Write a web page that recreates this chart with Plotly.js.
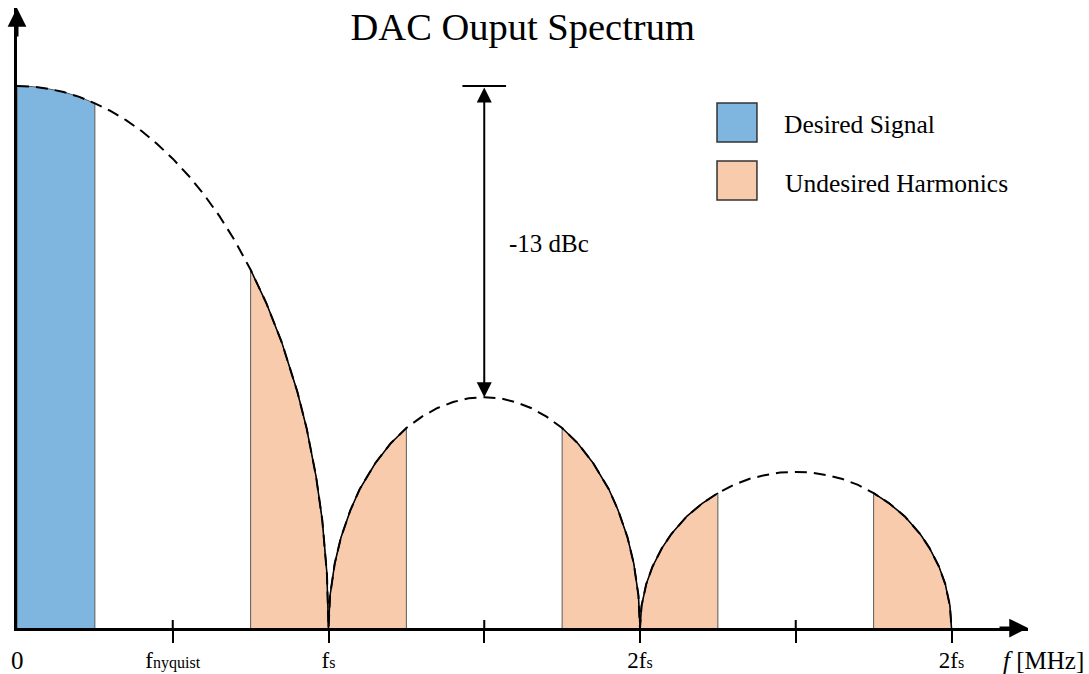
<!DOCTYPE html>
<html>
<head>
<meta charset="utf-8">
<script src="https://cdn.plot.ly/plotly-3.0.1.min.js"></script>
<style>html,body{margin:0;padding:0;background:#fff;}#chart{width:1089px;height:674px;}</style>
</head>
<body>
<div id="chart"></div>
<script>
// Frequency in units of fs, amplitude relative to the main-lobe peak
const freq = [0,0.05,0.1,0.15,0.2,0.25,0.3,0.35,0.4,0.45,0.5,0.55,0.6,0.65,0.7,0.75,0.8,0.85,0.9,0.93,0.96,0.98,0.995,1.0,
  1.005,1.02,1.04,1.07,1.1,1.15,1.2,1.25,1.3,1.35,1.4,1.45,1.5,1.55,1.6,1.65,1.7,1.75,1.8,1.85,1.9,1.93,1.96,1.98,1.995,2.0,
  2.005,2.02,2.04,2.07,2.1,2.15,2.2,2.25,2.3,2.35,2.4,2.45,2.5,2.55,2.6,2.65,2.7,2.75,2.8,2.85,2.9,2.93,2.96,2.98,2.995,3.0];
const amplitude = [1.000,0.999,0.995,0.989,0.980,0.968,0.954,0.937,0.917,0.893,0.866,0.835,0.800,0.760,0.714,0.661,0.600,0.527,0.436,0.368,0.280,0.199,0.100,0,
  0.060,0.119,0.167,0.217,0.256,0.304,0.341,0.369,0.390,0.406,0.417,0.424,0.426,0.424,0.417,0.406,0.390,0.369,0.341,0.304,0.256,0.217,0.167,0.119,0.060,0,
  0.041,0.081,0.113,0.147,0.173,0.206,0.230,0.249,0.264,0.275,0.282,0.287,0.288,0.287,0.282,0.275,0.264,0.249,0.230,0.206,0.173,0.147,0.113,0.081,0.041,0];
const desiredBand = [[0, 0.25]];
const harmonicBands = [[0.75,1.0],[1.0,1.25],[1.75,2.0],[2.0,2.25],[2.75,3.0]];
const tickValues = [0.5, 1, 1.5, 2, 2.5, 3];
const tickLabels = ['f<span style="font-size:16px">nyquist</span>', 'f<span style="font-size:16px">s</span>', '',
  '2f<span style="font-size:16px">s</span>', '', '2f<span style="font-size:16px">s</span>'];
const peakMain = 1.0, peakSecond = 0.426, secondCenter = 1.5;

const BLUE = '#7EB6E0', ORANGE = '#F8CBAD';
const FONT = 'Liberation Serif, Times New Roman, serif';

function bandTrace(band, color) {
  const xs = [], ys = [];
  for (let i = 0; i < freq.length; i++) {
    if (freq[i] >= band[0] - 1e-9 && freq[i] <= band[1] + 1e-9) { xs.push(freq[i]); ys.push(amplitude[i]); }
  }
  return {
    fill: {x: [band[0], ...xs, band[1]], y: [0, ...ys, 0], type: 'scatter', mode: 'lines', fill: 'toself',
      fillcolor: color, line: {color: '#5a5a5a', width: 1}, hoverinfo: 'skip', showlegend: false},
    edge: {x: xs, y: ys, type: 'scatter', mode: 'lines', line: {color: '#000', width: 1.5}, hoverinfo: 'skip', showlegend: false}
  };
}

const traces = [];
desiredBand.forEach(b => { traces.push(bandTrace(b, BLUE).fill); });
harmonicBands.forEach(b => { const t = bandTrace(b, ORANGE); traces.push(t.fill); traces.push(t.edge); });
traces.push({x: freq, y: amplitude, type: 'scatter', mode: 'lines',
  line: {color: '#000', width: 2, dash: '12px,7px'}, hoverinfo: 'skip', showlegend: false});

const shapes = [];
tickValues.forEach((v, i) => {
  if (i % 2 === 0) shapes.push({type: 'line', xref: 'x', yref: 'y', ysizemode: 'pixel', yanchor: 0,
    x0: v, x1: v, y0: 0, y1: 8, line: {color: '#000', width: 2}});
});
// top bar of the -13 dBc marker
shapes.push({type: 'line', xref: 'x', yref: 'y', x0: secondCenter - 0.07, x1: secondCenter + 0.07,
  y0: peakMain, y1: peakMain, line: {color: '#000', width: 2}});
// legend swatches
shapes.push({type: 'rect', xref: 'paper', yref: 'paper', x0: 0.6924, x1: 0.7319, y0: 0.7839, y1: 0.8468,
  fillcolor: BLUE, line: {color: '#333', width: 1.5}});
shapes.push({type: 'rect', xref: 'paper', yref: 'paper', x0: 0.6924, x1: 0.7319, y0: 0.6903, y1: 0.7532,
  fillcolor: ORANGE, line: {color: '#333', width: 1.5}});

const annotations = [
  // axis arrowheads
  {x: 3.2456, y: 0, xref: 'x', yref: 'y', ax: -30, ay: 0, text: '', showarrow: true,
    arrowhead: 2, arrowsize: 1.25, arrowwidth: 3, arrowcolor: '#000'},
  {x: 0, y: 1.144, xref: 'x', yref: 'y', ax: 0, ay: 30, text: '', showarrow: true,
    arrowhead: 2, arrowsize: 1.25, arrowwidth: 3, arrowcolor: '#000'},
  // -13 dBc double arrow
  {x: secondCenter, y: peakSecond, xref: 'x', yref: 'y', ax: secondCenter, ay: peakMain, axref: 'x', ayref: 'y',
    text: '', showarrow: true, arrowhead: 2, startarrowhead: 2, arrowside: 'end+start',
    arrowsize: 1.5, startarrowsize: 1.5, arrowwidth: 2, arrowcolor: '#000'},
  {x: 1.573, y: 0.710, xref: 'x', yref: 'y', xanchor: 'left', yanchor: 'middle', showarrow: false,
    text: '-13 dBc', font: {family: FONT, size: 25, color: '#000'}},
  // "0" label and axis title
  {x: 0, y: 0, xref: 'x', yref: 'y', yshift: -32, xanchor: 'center', yanchor: 'middle', showarrow: false,
    text: '0', font: {family: FONT, size: 25, color: '#000'}},
  {x: 1, y: 0, xref: 'paper', yref: 'y', yshift: -32, xshift: 58, xanchor: 'right', yanchor: 'middle', showarrow: false,
    text: '<i>f</i> [MHz]', font: {family: FONT, size: 25, color: '#000'}},
  // legend texts
  {x: 0.7567, y: 0.8113, xref: 'paper', yref: 'paper', xanchor: 'left', yanchor: 'middle', showarrow: false,
    text: 'Desired Signal', font: {family: FONT, size: 25.5, color: '#000'}},
  {x: 0.7576, y: 0.7177, xref: 'paper', yref: 'paper', xanchor: 'left', yanchor: 'middle', showarrow: false,
    text: 'Undesired Harmonics', font: {family: FONT, size: 25.5, color: '#000'}}
];

const layout = {
  width: 1089, height: 674,
  margin: {l: 17, r: 61, t: 8, b: 46, pad: 0},
  paper_bgcolor: '#fff', plot_bgcolor: '#fff',
  title: {text: 'DAC Ouput Spectrum', x: 0.48, xref: 'container', xanchor: 'center',
    y: 0.96, yref: 'container', yanchor: 'middle', font: {family: FONT, size: 38.5, color: '#000'}},
  xaxis: {range: [0, 3.2456], showgrid: false, zeroline: false, showline: true, linecolor: '#000', linewidth: 3,
    ticks: 'outside', ticklen: 12, tickwidth: 2, tickcolor: '#000', ticklabelstandoff: -3,
    tickvals: tickValues, ticktext: tickLabels, tickfont: {family: FONT, size: 23, color: '#000'},
    fixedrange: true},
  yaxis: {range: [0, 1.144], showgrid: false, zeroline: false, showline: true, linecolor: '#000', linewidth: 3,
    showticklabels: false, ticks: '', fixedrange: true},
  shapes: shapes,
  annotations: annotations,
  showlegend: false
};

Plotly.newPlot('chart', traces, layout, {displayModeBar: false, staticPlot: true});
</script>
</body>
</html>
